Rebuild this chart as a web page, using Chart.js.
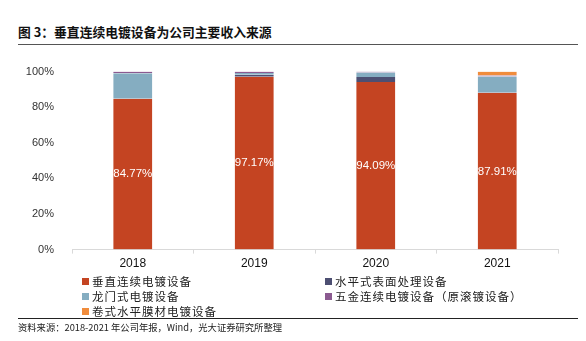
<!DOCTYPE html>
<html>
<head>
<meta charset="utf-8">
<script src="https://cdn.jsdelivr.net/npm/chart.js@4"></script>
<style>
  body { margin: 0; background: #fff; font-family: "Liberation Sans", "Noto Sans CJK SC", sans-serif; }
  #wrap { position: relative; width: 586px; height: 341px; overflow: hidden; }
  #title { position: absolute; left: 18px; top: 22px; font-size: 12.8px; font-weight: bold; color: #111; font-family: "Noto Sans CJK SC", sans-serif; }
  #topline { position: absolute; left: 18px; width: 560px; top: 44px; height: 1px; background: #555; }
  #chartbox { position: absolute; left: 0; top: 55px; width: 586px; height: 220px; }
  #legend { position: absolute; left: 82px; top: 273px; width: 480px; font-family: "Noto Sans CJK SC", sans-serif; font-size: 11.5px; color: #222; letter-spacing: 1px; }
  .item { position: absolute; white-space: nowrap; }
  .box { display: inline-block; width: 7px; height: 7px; margin-right: 3px; vertical-align: 1px; }
  #botline { position: absolute; left: 18px; width: 560px; top: 318px; height: 1px; background: #222; }
  #source { position: absolute; left: 18px; top: 320px; font-size: 9.3px; color: #222; font-family: "Noto Sans CJK SC", sans-serif; }
</style>
</head>
<body>
<div id="wrap">
  <div id="title">图 3：垂直连续电镀设备为公司主要收入来源</div>
  <div id="topline"></div>
  <div id="chartbox"><canvas id="c" width="586" height="220"></canvas></div>
  <div id="legend"></div>
  <div id="botline"></div>
  <div id="source">资料来源：2018-2021 年公司年报，Wind，光大证券研究所整理</div>
</div>
<script>
var years = ["2018", "2019", "2020", "2021"];
var seriesNames = ["垂直连续电镀设备", "水平式表面处理设备", "龙门式电镀设备", "五金连续电镀设备（原滚镀设备）", "卷式水平膜材电镀设备"];
var vertical = [84.77, 97.17, 94.09, 87.91];
var horizontal = [0.0, 1.0, 2.9, 0.4];
var gantry = [14.3, 1.1, 2.5, 9.0];
var hardware = [0.93, 0.73, 0.5, 0.5];
var rollFilm = [0.0, 0.0, 0.0, 2.19];
var yTicks = ["0%", "20%", "40%", "60%", "80%", "100%"];
var colors = ["#c44422", "#4d4f72", "#85adc1", "#8b5a90", "#f08c3c"];

var seriesValues = [vertical, horizontal, gantry, hardware, rollFilm];

// legend in two columns, like the report
var legend = document.getElementById("legend");
seriesNames.forEach(function(name, i) {
    var d = document.createElement("div");
    d.className = "item";
    d.style.left = (i % 2 == 0 ? 0 : 243) + "px";
    d.style.top = (Math.floor(i / 2) * 15) + "px";
    d.innerHTML = '<span class="box" style="background:' + colors[i] + '"></span>' + name;
    legend.appendChild(d);
});

// white percentage label in the middle of the first series
var barLabels = {
    id: "barLabels",
    afterDatasetsDraw: function(chart) {
        var ctx = chart.ctx;
        var meta = chart.getDatasetMeta(0);
        ctx.save();
        ctx.fillStyle = "#fff";
        ctx.font = "11.5px 'Liberation Sans', sans-serif";
        ctx.textAlign = "center";
        ctx.textBaseline = "middle";
        meta.data.forEach(function(bar, i) {
            var mid = (bar.y + bar.base) / 2;
            ctx.fillText(vertical[i].toFixed(2) + "%", bar.x, mid);
        });
        ctx.restore();
    }
};

var datasets = seriesNames.map(function(name, i) {
    return {
        label: name,
        data: seriesValues[i],
        backgroundColor: colors[i],
        borderColor: "rgba(255,255,255,0.6)",
        borderWidth: { left: 1, right: 1, top: 0, bottom: 0 },
        borderSkipped: false,
        barPercentage: 0.335,
        categoryPercentage: 1.0
    };
});

new Chart(document.getElementById("c"), {
    type: "bar",
    data: { labels: years, datasets: datasets },
    plugins: [barLabels],
    options: {
        responsive: false,
        animation: false,
        layout: { padding: { left: 10, right: 28, top: 15, bottom: 1 } },
        plugins: { legend: { display: false }, tooltip: { enabled: false } },
        scales: {
            x: {
                stacked: true,
                grid: { display: true, drawOnChartArea: false, color: "#d9d9d9", tickLength: 4, offset: true },
                border: { color: "#d9d9d9" },
                ticks: { color: "#111", font: { size: 12, family: "'Liberation Sans', sans-serif" }, padding: 3 }
            },
            y: {
                stacked: true,
                min: 0,
                max: 100,
                afterFit: function(scale) { scale.width = 62; },
                grid: { display: false },
                border: { display: false },
                ticks: {
                    stepSize: 20,
                    color: "#333",
                    padding: 10,
                    font: { size: 11, family: "'Liberation Sans', sans-serif" },
                    callback: function(v, i) { return yTicks[i]; }
                }
            }
        }
    }
});
</script>
</body>
</html>
